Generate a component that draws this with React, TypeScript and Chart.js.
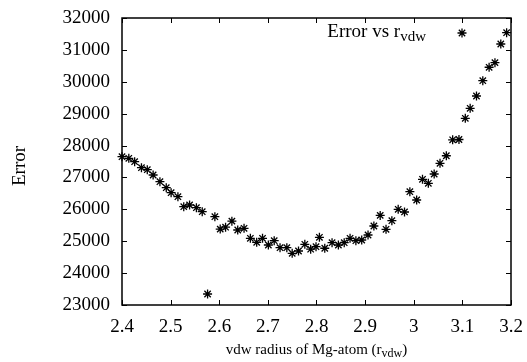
import React, { useEffect, useRef } from "react";
import { Chart, registerables } from "chart.js";

Chart.register(...registerables);

// vdw radius of Mg-atom
const rVdw = [
  2.400, 2.414, 2.426, 2.440, 2.452, 2.464, 2.478, 2.491, 2.501, 2.515,
  2.527, 2.539, 2.553, 2.565, 2.576, 2.591, 2.602, 2.613, 2.626, 2.638,
  2.651, 2.664, 2.677, 2.689, 2.701, 2.713, 2.725, 2.739, 2.750, 2.763,
  2.776, 2.788, 2.799, 2.806, 2.817, 2.832, 2.845, 2.857, 2.869, 2.881,
  2.893, 2.906, 2.918, 2.931, 2.943, 2.955, 2.968, 2.981, 2.992, 3.006,
  3.018, 3.030, 3.042, 3.054, 3.067, 3.080, 3.093, 3.106, 3.116, 3.129,
  3.142, 3.155, 3.167, 3.179, 3.191,
];

// Error
const errorValues = [
  27650, 27600, 27494, 27306, 27243, 27077, 26867, 26678, 26522, 26396,
  26083, 26136, 26051, 25926, 23345, 25769, 25380, 25440, 25630, 25352,
  25405, 25092, 24966, 25092, 24882, 25016, 24797, 24797, 24621, 24693,
  24904, 24750, 24828, 25123, 24780, 24954, 24882, 24954, 25092, 25016,
  25038, 25195, 25477, 25810, 25374, 25644, 26001, 25917, 26553, 26293,
  26942, 26817, 27108, 27444, 27680, 28180, 28190, 28855, 29169, 29554,
  30034, 30455, 30600, 31185, 31540,
];

const xMin = 2.4;
const xMax = 3.2;
const xStep = 0.1;
const yMin = 23000;
const yMax = 32000;
const yStep = 1000;

const FONT = "'Liberation Serif', 'DejaVu Serif', serif";
const FS = 19;

function drawStar(ctx: CanvasRenderingContext2D, x: number, y: number, r: number) {
  const d = r * Math.SQRT1_2;
  ctx.beginPath();
  ctx.moveTo(x - r, y);
  ctx.lineTo(x + r, y);
  ctx.moveTo(x, y - r);
  ctx.lineTo(x, y + r);
  ctx.moveTo(x - d, y - d);
  ctx.lineTo(x + d, y + d);
  ctx.moveTo(x - d, y + d);
  ctx.lineTo(x + d, y - d);
  ctx.stroke();
}

function drawSubText(
  ctx: CanvasRenderingContext2D,
  parts: { t: string; sub?: boolean }[],
  x: number,
  y: number,
  align: "left" | "right" | "center",
  size: number
) {
  const main = `${size}px ${FONT}`;
  const small = `${Math.round(size * 0.8)}px ${FONT}`;
  let total = 0;
  const widths = parts.map((p) => {
    ctx.font = p.sub ? small : main;
    const w = ctx.measureText(p.t).width;
    total += w;
    return w;
  });
  let cx = align === "left" ? x : align === "right" ? x - total : x - total / 2;
  ctx.textAlign = "left";
  ctx.textBaseline = "alphabetic";
  parts.forEach((p, i) => {
    ctx.font = p.sub ? small : main;
    ctx.fillText(p.t, cx, p.sub ? y + size * 0.22 : y);
    cx += widths[i];
  });
}

const framePlugin = {
  id: "gnuframe",
  beforeDatasetsDraw(chart: any) {
    const { ctx, chartArea: a, scales } = chart;
    const xs = scales.x;
    const ys = scales.y;
    ctx.save();
    ctx.strokeStyle = "#000";
    ctx.lineWidth = 1.5;
    ctx.strokeRect(a.left, a.top, a.right - a.left, a.bottom - a.top);
    ctx.lineWidth = 1;
    const tl = 5;
    xs.ticks.forEach((t: any) => {
      const px = Math.round(xs.getPixelForValue(t.value)) + 0.5;
      ctx.beginPath();
      ctx.moveTo(px, a.bottom);
      ctx.lineTo(px, a.bottom - tl);
      ctx.moveTo(px, a.top);
      ctx.lineTo(px, a.top + tl);
      ctx.stroke();
    });
    ys.ticks.forEach((t: any) => {
      const py = Math.round(ys.getPixelForValue(t.value)) + 0.5;
      ctx.beginPath();
      ctx.moveTo(a.left, py);
      ctx.lineTo(a.left + tl, py);
      ctx.moveTo(a.right, py);
      ctx.lineTo(a.right - tl, py);
      ctx.stroke();
    });
    ctx.restore();
  },
  afterDraw(chart: any) {
    const { ctx, chartArea: a } = chart;
    ctx.save();
    ctx.fillStyle = "#000";
    ctx.strokeStyle = "#000";
    // legend
    drawSubText(ctx, [{ t: "Error vs r" }, { t: "vdw", sub: true }], 426, 37, "right", FS);
    ctx.lineWidth = 1.3;
    drawStar(ctx, 462, 33, 4.5);
    // x title
    drawSubText(
      ctx,
      [{ t: "vdw radius of Mg-atom (r" }, { t: "vdw", sub: true }, { t: ")" }],
      (a.left + a.right) / 2,
      354,
      "center",
      15
    );
    // y title
    ctx.translate(25, 166);
    ctx.rotate(-Math.PI / 2);
    ctx.font = `${FS}px ${FONT}`;
    ctx.textAlign = "center";
    ctx.textBaseline = "alphabetic";
    ctx.fillText("Error", 0, 0);
    ctx.restore();
  },
};

export default function App() {
  const ref = useRef<HTMLCanvasElement | null>(null);
  useEffect(() => {
    document.body.style.margin = "0";
    if (!ref.current) return;
    const chart = new Chart(ref.current, {
      type: "scatter",
      data: {
        datasets: [
          {
            label: "Error vs rvdw",
            data: rVdw.map((x, i) => ({ x, y: errorValues[i] })),
            pointStyle: "star",
            pointRadius: 4.5,
            pointBorderColor: "#000",
            pointBackgroundColor: "#000",
            pointBorderWidth: 1.3,
            showLine: false,
            clip: false,
          } as any,
        ],
      },
      options: {
        responsive: false,
        animation: false,
        events: [],
        layout: { padding: { top: 18, right: 16, left: 0, bottom: 0 } },
        plugins: { legend: { display: false }, tooltip: { enabled: false } },
        scales: {
          x: {
            type: "linear",
            min: xMin,
            max: xMax,
            grid: { display: false, drawTicks: false },
            border: { display: false },
            ticks: {
              stepSize: xStep,
              autoSkip: false,
              maxRotation: 0,
              padding: 11,
              color: "#000",
              font: { family: FONT, size: FS },
              callback: (v: any) => String(+Number(v).toFixed(1)),
            },
            afterFit: (s: any) => {
              s.height = 57;
              s.paddingLeft = 0;
              s.paddingRight = 0;
            },
          },
          y: {
            type: "linear",
            min: yMin,
            max: yMax,
            grid: { display: false, drawTicks: false },
            border: { display: false },
            ticks: {
              stepSize: yStep,
              padding: 12,
              color: "#000",
              font: { family: FONT, size: FS },
              callback: (v: any) => String(Math.round(Number(v))),
            },
            afterFit: (s: any) => {
              s.width = 122;
              s.paddingTop = 0;
              s.paddingBottom = 0;
            },
          },
        },
      },
      plugins: [framePlugin],
    });
    return () => chart.destroy();
  }, []);
  return (
    <div style={{ position: "fixed", left: 0, top: 0, width: 527, height: 362, background: "#fff" }}>
      <canvas ref={ref} width={527} height={362} style={{ display: "block" }} />
    </div>
  );
}
